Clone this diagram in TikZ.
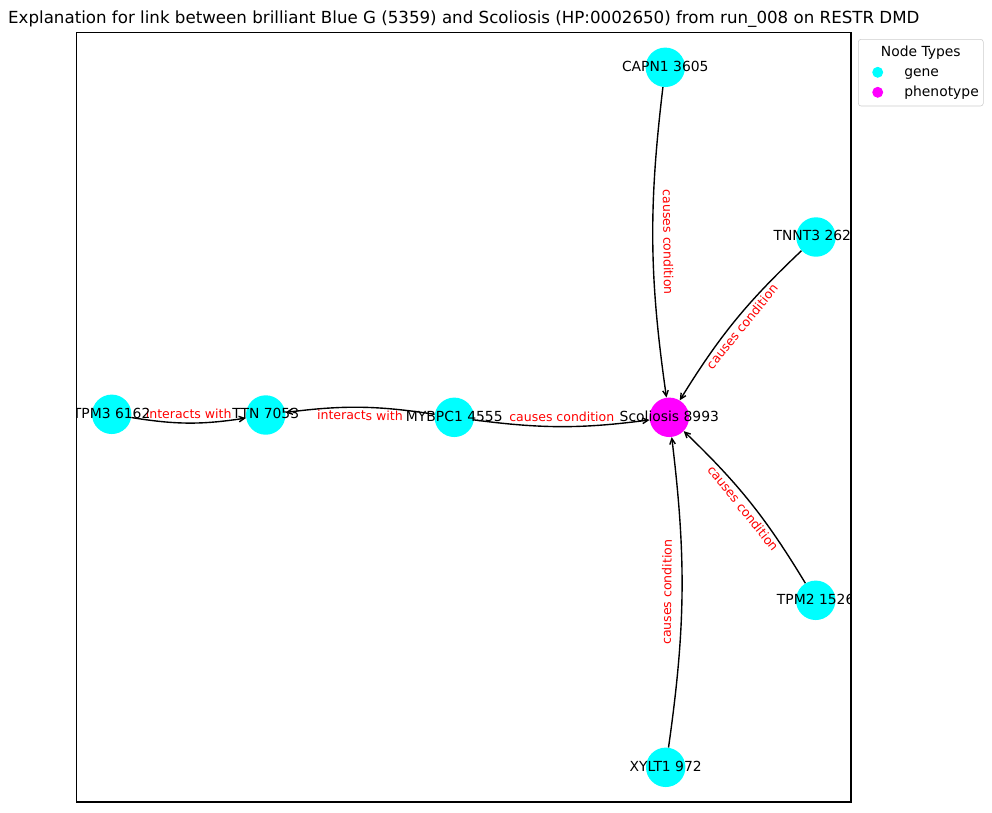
\documentclass[tikz,border=0pt]{standalone}
\usepackage{fontspec}
\setmainfont{DejaVu Sans}
\usetikzlibrary{arrows.meta}
\definecolor{genecol}{RGB}{0,255,255}
\definecolor{phenocol}{RGB}{255,0,255}
\definecolor{labelred}{RGB}{255,0,0}

\begin{document}
\begin{tikzpicture}[
      x=0.72pt,y=-0.72pt,
      gene/.style={circle,fill=genecol,minimum size=28.4pt,inner sep=0pt},
      pheno/.style={gene,fill=phenocol},
      nlabel/.style={anchor=mid,inner sep=0pt,font=\fontsize{10}{12}\selectfont},
      elabel/.style={sloped,anchor=mid,inner sep=0pt,text=labelred,font=\fontsize{9}{11}\selectfont},
      edge/.style={draw,line width=1pt,-{Straight Barb[length=4pt,width=4pt]}},
      legtext/.style={anchor=base west,inner sep=0pt,font=\fontsize{10}{12}\selectfont}
    ]
    \useasboundingbox (0,0) rectangle (992,812);
    \node [anchor=base,inner sep=0pt,font=\fontsize{12}{14}\selectfont] (title) at (463.8,23.3)
        {Explanation for link between brilliant Blue G (5359) and Scoliosis (HP:0002650) from run\_008 on RESTR DMD};
    \draw [line width=0.8pt] (76.7,32.5) rectangle (851,802);
    \node [gene] (capn) at (665.3,67.3) {};
    \node [gene] (tnnt) at (816,237) {};
    \node [gene] (tpmthree) at (111.7,414.3) {};
    \node [gene] (ttn) at (265.7,415) {};
    \node [gene] (mybpc) at (454.3,417.3) {};
    \node [pheno] (scol) at (669.3,417.3) {};
    \node [gene] (tpmtwo) at (815.7,600.3) {};
    \node [gene] (xylt) at (665.7,767.3) {};
    \draw [edge] (tpmthree) to[bend right=9] (ttn);
    \draw [edge] (mybpc) to[bend right=8] (ttn);
    \path (tpmthree.center) -- node [elabel] (ltpmthree) {interacts with} (ttn.center);
    \path (mybpc.center) -- node [elabel] (lmybpcttn) {interacts with} (ttn.center);
    \foreach \g in {mybpc,capn,tnnt,tpmtwo,xylt} {
        \draw [edge] (\g) to[bend right=7.5] (scol);
        \path (\g.center) -- node [elabel] (l\g) {causes condition} (scol.center);
    }
    \begin{scope}
        \clip (76.7,32.5) rectangle (851,802); % Beschriftung am Rahmen abschneiden
        \node [nlabel] (capntext) at (capn) {CAPN1 3605};
        \node [nlabel,anchor=mid west] (tnnttext) at (773.3,237) {TNNT3 262};
        \node [nlabel] (tpmthreetext) at (tpmthree) {TPM3 6162};
        \node [nlabel] (ttntext) at (ttn) {TTN 7053};
        \node [nlabel] (mybpctext) at (mybpc) {MYBPC1 4555};
        \node [nlabel] (scoltext) at (scol) {Scoliosis 8993};
        \node [nlabel] (tpmtwotext) at (tpmtwo) {TPM2 1526};
        \node [nlabel] (xylttext) at (xylt) {XYLT1 972};
    \end{scope}
    \draw [black!20,fill=white,rounded corners=2pt] (858.3,39.3) rectangle (983.3,106);
    \node [anchor=base,inner sep=0pt,font=\fontsize{10}{12}\selectfont] (legtitle) at (920.8,56) {Node Types};
    \node [gene,minimum size=7.9pt] (leggene) at (877.7,72.3) {};
    \node [pheno,minimum size=7.9pt] (legpheno) at (877.7,92.3) {};
    \node [legtext] (leggenetext) at (904,76.7) {gene};
    \node [legtext] (legphenotext) at (904,96.7) {phenotype};
\end{tikzpicture}
\end{document}
